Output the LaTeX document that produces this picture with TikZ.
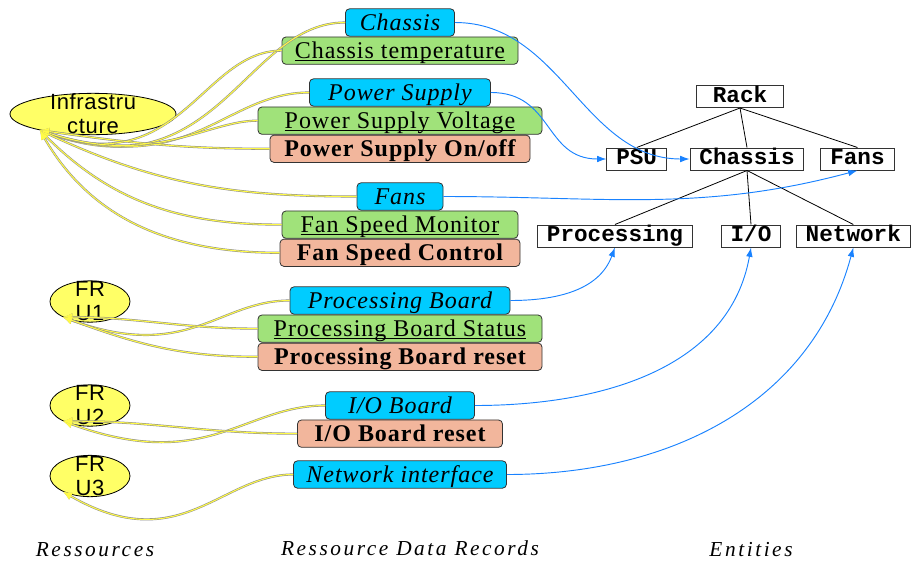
\documentclass[tikz,border=0pt]{standalone}
\usepackage{fontspec}
\setmainfont{Liberation Serif}
\newfontfamily\recfont[LetterSpace=4]{Liberation Serif}
\newfontfamily\frufont[LetterSpace=3]{Liberation Sans}
\newfontfamily\entfont{Liberation Mono}
\newfontfamily\capfont[LetterSpace=12]{Liberation Serif}
\usetikzlibrary{shapes, arrows.meta, positioning}

\definecolor{recblue}{RGB}{0,204,255}
\definecolor{recgreen}{RGB}{160,226,122}
\definecolor{recred}{RGB}{242,182,156}
\definecolor{fruyellow}{RGB}{255,255,102}
\definecolor{refblue}{RGB}{25,130,255}
\definecolor{linkyellow}{RGB}{255,250,70}

\newcommand{\recline}[1]{\underline{\smash{#1}}}

\begin{document}
\begin{tikzpicture}[x=0.75pt, y=-0.75pt,
        rec/.style={draw=black!80, rounded corners=3pt, line width=0.6pt, minimum height=20.5pt, inner sep=0pt, text height=13.5pt, text depth=1.5pt},
        obj/.style={rec, fill=recblue, font=\fontsize{18}{20}\recfont\itshape},
        sensor/.style={rec, fill=recgreen, font=\fontsize{18}{20}\recfont},
        control/.style={rec, fill=recred, font=\fontsize{18}{20}\recfont\bfseries},
        fru/.style={ellipse, draw, fill=fruyellow, line width=0.6pt, inner sep=0pt, minimum width=60pt, minimum height=31pt},
        frutext/.style={align=center, font=\fontsize{16.5}{18}\frufont},
        ent/.style={draw=black!80, fill=white, line width=0.75pt, font=\fontsize{17}{17}\entfont\bfseries, inner xsep=7pt, inner ysep=0pt, minimum height=16.5pt, text height=10.5pt, text depth=2pt},
        tree/.style={black, line width=0.6pt},
        ref/.style={-{Latex[length=7pt, width=5pt]}, refblue, line width=0.7pt},
        link/.style={-{Latex[length=7pt, width=6pt, fill=linkyellow]}, linkyellow, line width=0.8pt, preaction={draw=black!45, line width=1.6pt}},
        colhead/.style={font=\fontsize{16}{18}\capfont\itshape}
    ]
        \useasboundingbox (0,0) rectangle (913,561);

        % Ressource data records
        \node[obj, minimum width=81.75pt] (chassis) at (400,22.5) {Chassis};
        \node[sensor, minimum width=177pt, below=0pt of chassis] (chassis-temp) {\recline{Chassis temperature}};
        \node[obj, minimum width=135.75pt] (psupply) at (400,92.5) {Power Supply};
        \node[sensor, minimum width=213pt, below=0pt of psupply] (ps-volt) {\recline{Power Supply Voltage}};
        \node[control, minimum width=195pt, below=0pt of ps-volt] (ps-onoff) {Power Supply On/off};
        \node[obj, minimum width=64.5pt] (fans) at (400,196.5) {Fans};
        \node[sensor, minimum width=177pt, below=0pt of fans] (fan-mon) {\recline{Fan Speed Monitor}};
        \node[control, minimum width=180pt, below=0pt of fan-mon] (fan-ctl) {Fan Speed Control};
        \node[obj, minimum width=165pt] (pboard) at (400,300.5) {Processing Board};
        \node[sensor, minimum width=213pt, below=0pt of pboard] (pb-status) {\recline{Processing Board Status}};
        \node[control, minimum width=213pt, below=0pt of pb-status] (pb-reset) {Processing Board reset};
        \node[obj, minimum width=111.75pt] (ioboard) at (400,405.5) {I/O Board};
        \node[control, minimum width=153.75pt, below=0pt of ioboard] (io-reset) {I/O Board reset};
        \node[obj, minimum width=159.75pt] (netif) at (400,474.5) {Network interface};

        % Ressources
        \node[fru, minimum width=124.5pt, label={[frutext]center:Infrastru\\cture}] (infra) at (93,114) {};
        \node[fru, label={[frutext]center:FR\\U1}] (fru1) at (90,301.5) {};
        \node[fru, label={[frutext]center:FR\\U2}] (fru2) at (90,405.5) {};
        \node[fru, label={[frutext]center:FR\\U3}] (fru3) at (90,476) {};

        % Entities
        \node[ent, minimum width=65pt] (rack) at (740,96.5) {Rack};
        \node[ent] (e-chassis) at (747,159) {Chassis};
        \node[ent, left=17pt of e-chassis] (e-psu) {PSU};
        \node[ent, right=12pt of e-chassis] (e-fans) {Fans};
        \node[ent] (e-io) at (751,236) {I/O};
        \node[ent, left=21pt of e-io] (e-proc) {Processing};
        \node[ent, right=11pt of e-io] (e-net) {Network};

        % Entity tree
        \draw[tree] (rack.south) -- (e-psu.north);
        \draw[tree] (rack.south) -- (e-chassis.north);
        \draw[tree] (rack.south) -- (e-fans.north);
        \draw[tree] (e-chassis.south) -- (e-proc.north);
        \draw[tree] (e-chassis.south) -- (e-io.north);
        \draw[tree] (e-chassis.south) -- (e-net.north);

        % Records to entities
        \draw[ref] (chassis.east) to[out=0, in=180] (e-chassis.west);
        \draw[ref] (psupply.east) to[out=0, in=180, looseness=1.2] (e-psu.west);
        \draw[ref] (fans.east) to[out=0, in=195] (e-fans.south);
        \draw[ref] (pboard.east) to[out=0, in=250] (e-proc.south);
        \draw[ref] (ioboard.east) to[out=0, in=260] (e-io.south);
        \draw[ref] (netif.east) to[out=0, in=255] (e-net.south);

        % Records to ressources
        \draw[link] (chassis.west) to[out=180, in=-20, out looseness=0.8, in looseness=1.5] (infra.197);
        \draw[link] (chassis-temp.west) to[out=180, in=-20, out looseness=0.8, in looseness=1.5] (infra.197);
        \draw[link] (psupply.west) to[out=180, in=-18, out looseness=0.8, in looseness=1.5] (infra.197);
        \draw[link] (ps-volt.west) to[out=180, in=-18, out looseness=0.6, in looseness=1.4] (infra.197);
        \draw[link] (ps-onoff.west) to[out=180, in=-8] (infra.197);
        \draw[link] (fans.west) to[out=180, in=-25] (infra.197);
        \draw[link] (fan-mon.west) to[out=180, in=-45] (infra.197);
        \draw[link] (fan-ctl.west) to[out=180, in=-60] (infra.197);
        \draw[link] (pboard.west) to[out=180, in=-20, out looseness=0.8, in looseness=1.5] (fru1.210);
        \draw[link] (pb-status.west) to[out=180, in=0] (fru1.210);
        \draw[link] (pb-reset.west) to[out=180, in=-20] (fru1.210);
        \draw[link] (ioboard.west) to[out=180, in=-20, out looseness=0.8, in looseness=1.5] (fru2.210);
        \draw[link] (io-reset.west) to[out=180, in=0] (fru2.210);
        \draw[link] (netif.west) to[out=180, in=-30, out looseness=0.8, in looseness=1.5] (fru3.210);

        % Column captions
        \node[colhead] (c-res) at (95,550) {Ressources};
        \node[colhead] (c-rdr) at (410,548) {Ressource Data Records};
        \node[colhead] (c-ent) at (751,550) {Entities};
    \end{tikzpicture}
\end{document}
